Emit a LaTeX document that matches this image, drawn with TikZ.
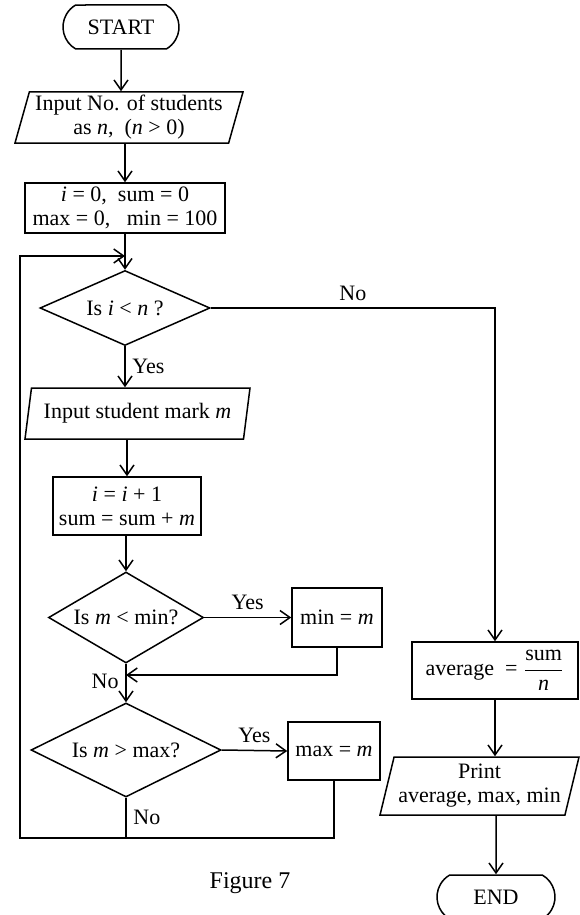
\documentclass[tikz,border=0pt]{standalone}
\usepackage{amsmath}
\usepackage{fontspec}
\setmainfont{Liberation Serif}
\usetikzlibrary{shapes.geometric,shapes.misc,arrows.meta}

\tikzset{
  term/.style={draw,rounded rectangle,rounded rectangle arc length=120,minimum width=58pt,minimum height=22pt,inner sep=0pt},
  io/.style={draw,trapezium,trapezium left angle=72,trapezium right angle=108,trapezium stretches body,inner sep=0pt,align=center},
  proc/.style={draw,rectangle,inner sep=0pt,align=center},
  dec/.style={draw,diamond,aspect=2,inner sep=0pt},
  arr/.style={-{Straight Barb[length=5pt,width=7pt]}},
}

\begin{document}
\begin{tikzpicture}[x=0.5pt,y=-0.5pt,line width=0.75pt,
                    every node/.style={font=\fontsize{11}{12}\selectfont}]
                      \useasboundingbox (0,0) rectangle (579,915);
                      % main column
                      \node[term](start)at(121,27){START};
                      \node[io,minimum width=114pt,minimum height=25.5pt](inp1)at(129,117.5){Input No. of students\\as \textit{n},\ \ (\textit{n} > 0)};
                      \node[proc,minimum width=100pt,minimum height=25pt](init)at(125,208){\textit{i} = 0,\ \ sum = 0\\max = 0,\ \ \ min = 100};
                      \node[dec,minimum width=85pt,minimum height=37.5pt](d1)at(125,308){Is \textit{i} < \textit{n} ?};
                      \node[io,minimum width=112.5pt,minimum height=25.5pt](inp2)at(137.5,413.5){Input student mark \textit{m}};
                      \node[proc,minimum width=74pt,minimum height=29pt](incr)at(127,506){\textit{i} = \textit{i} + 1\\sum = sum + \textit{m}};
                      \node[dec,minimum width=77.5pt,minimum height=45.5pt](d2)at(126,617.5){Is \textit{m} < min?};
                      \node[proc,minimum width=45pt,minimum height=29.5pt](minbox)at(337,617.5){min = \textit{m}};
                      \node[dec,minimum width=95pt,minimum height=47pt](d3)at(126,750){Is \textit{m} > max?};
                      \node[proc,minimum width=46pt,minimum height=29pt](maxbox)at(334,751){max = \textit{m}};
                      % right column
                      \node[proc,minimum width=83pt,minimum height=28.5pt](avg)at(495,670.5){average\ \ = $\dfrac{\text{sum}}{\text{\itshape n}}$};
                      \node[io,minimum width=99.5pt,minimum height=29pt](prn)at(479.5,786){Print\\average, max, min};
                      \node[term,minimum width=59pt](endn)at(496,897){END};
                      \node[font=\fontsize{12}{14}\selectfont](cap)at(250,883){Figure 7};
                      % joins
                      \coordinate(j0)at(125,256);
                      \coordinate(j1)at(126,675);
                      \coordinate(j2)at(126,838);
                      \coordinate(lp)at(20,838);
                      % connectors
                      \draw[arr](start)--(start|-inp1.north);
                      \draw[arr](inp1.south-|init)--(init);
                      \draw[arr](init)--(d1);
                      \draw[arr](d1)--(d1|-inp2.north) node[midway,right](yes1){Yes};
                      \draw[arr](d1.east)-|(avg.north) node[pos=0.25,above](no1){No};
                      \draw[arr](incr|-inp2.south)--(incr);
                      \draw[arr](d2|-incr.south)--(d2);
                      \draw[arr](d2.east)--(minbox.west) node[midway,above](yes2){Yes};
                      \draw[arr](minbox.south)|-(j1);
                      \draw[arr](d2.south)--(d3.north);
                      \node[left,yshift=-3pt](no2)at(j1){No};
                      \draw[arr](d3.east)--(maxbox.west) node[midway,above](yes3){Yes};
                      \draw(d3.south)--(j2) node[midway,right](no3){No};
                      \draw(maxbox.south)|-(j2);
                      \draw[arr](j2)--(lp)|-(j0);
                      \draw[arr](avg)--(avg|-prn.north);
                      \draw[arr](endn|-prn.south)--(endn);
                  \end{tikzpicture}
\end{document}
